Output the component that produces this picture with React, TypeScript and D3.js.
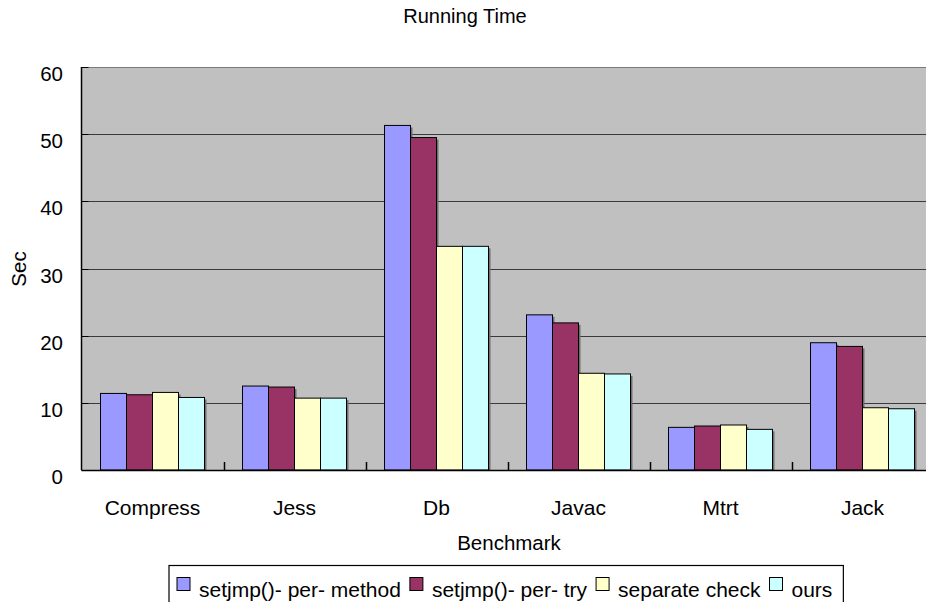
import React, { useEffect, useRef } from "react";
import * as d3 from "d3";

const categories = ["Compress", "Jess", "Db", "Javac", "Mtrt", "Jack"];
const seriesNames = ["setjmp()- per- method", "setjmp()- per- try", "separate check", "ours"];
const perMethod = [11.4, 12.5, 51.3, 23.1, 6.35, 18.95];
const perTry = [11.2, 12.35, 49.5, 21.9, 6.55, 18.4];
const separateCheck = [11.55, 10.7, 33.3, 14.4, 6.7, 9.27];
const ours = [10.8, 10.7, 33.3, 14.3, 6.05, 9.12];
const yTicks = [0, 10, 20, 30, 40, 50, 60];
const colors = ["#9999FF", "#993366", "#FFFFCC", "#CCFFFF"];

const W = 926;
const H = 602;
const FONT = "Arial, 'Liberation Sans', sans-serif";

export default function App() {
  const ref = useRef<SVGSVGElement | null>(null);

  useEffect(() => {
    const svg = d3.select(ref.current);
    svg.selectAll("*").remove();

    const left = 81.5;
    const groupW = 142;
    const right = left + groupW * categories.length;
    const top = 67;
    const bottom = 470;

    const x0 = d3.scaleBand<string>().domain(categories).range([left, right]).padding(0);
    const x1 = d3.scaleBand<string>().domain(seriesNames).range([19, 123]).padding(0);
    const y = d3.scaleLinear().domain([0, 60]).range([bottom, top]);

    const data = [perMethod, perTry, separateCheck, ours];

    svg.append("rect").attr("x", left).attr("y", top).attr("width", W - left).attr("height", bottom - top).attr("fill", "#C0C0C0");

    svg.selectAll("line.grid").data(yTicks.filter((t) => t > 0)).enter().append("line")
      .attr("x1", left).attr("x2", W)
      .attr("y1", (d) => Math.round(y(d)) + 0.5).attr("y2", (d) => Math.round(y(d)) + 0.5)
      .attr("stroke", (d) => (d === 60 ? "#7a7a7a" : "#3a3a3a")).attr("stroke-width", 1);

    svg.selectAll("line.ytick").data(yTicks).enter().append("line")
      .attr("x1", left).attr("x2", left + 7)
      .attr("y1", (d) => Math.round(y(d)) + 0.5).attr("y2", (d) => Math.round(y(d)) + 0.5)
      .attr("stroke", "#000");

    svg.selectAll("text.ylab").data(yTicks).enter().append("text")
      .attr("x", 63).attr("y", (d) => y(d) + 14)
      .attr("text-anchor", "end").attr("font-family", FONT).attr("font-size", 20.5)
      .attr("fill", "#000").text((d) => String(d));

    categories.forEach((c, ci) => {
      seriesNames.forEach((s, si) => {
        const v = data[si][ci];
        const bx = (x0(c) as number) + (x1(s) as number);
        const bw = x1.bandwidth();
        const by = y(v);
        svg.append("rect").attr("x", bx + 2).attr("y", by + 2).attr("width", bw).attr("height", bottom - by - 2)
          .attr("fill", "#6e6e6e");
        svg.append("rect").attr("x", bx).attr("y", by).attr("width", bw).attr("height", bottom - by)
          .attr("fill", colors[si]).attr("stroke", "#000").attr("stroke-width", 1);
      });
    });

    svg.append("line").attr("x1", left).attr("x2", left).attr("y1", top).attr("y2", bottom).attr("stroke", "#000").attr("stroke-width", 1.5);
    svg.append("line").attr("x1", left).attr("x2", W).attr("y1", bottom + 0.5).attr("y2", bottom + 0.5).attr("stroke", "#000").attr("stroke-width", 1.5);

    const bounds = categories.map((c) => (x0(c) as number)).concat([right]).slice(1);
    svg.selectAll("line.xtick").data(bounds).enter().append("line")
      .attr("x1", (d) => Math.round(d) + 0.5).attr("x2", (d) => Math.round(d) + 0.5)
      .attr("y1", bottom - 8).attr("y2", bottom).attr("stroke", "#000").attr("stroke-width", 1.5);

    svg.selectAll("text.xlab").data(categories).enter().append("text")
      .attr("x", (d) => (x0(d) as number) + x0.bandwidth() / 2).attr("y", 515)
      .attr("text-anchor", "middle").attr("font-family", FONT).attr("font-size", 21)
      .attr("fill", "#000").text((d) => d);

    svg.append("text").attr("x", 465).attr("y", 23).attr("text-anchor", "middle")
      .attr("font-family", FONT).attr("font-size", 20).text("Running Time");

    svg.append("text").attr("x", 509).attr("y", 550).attr("text-anchor", "middle")
      .attr("font-family", FONT).attr("font-size", 20.5).text("Benchmark");
    svg.append("text").attr("transform", "translate(26,269) rotate(-90)").attr("text-anchor", "middle")
      .attr("font-family", FONT).attr("font-size", 20.5).text("Sec");

    const lg = svg.append("g");
    const box = lg.append("rect").attr("y", 565.5).attr("height", 50).attr("fill", "#fff").attr("stroke", "#000").attr("stroke-width", 1.2);
    let cx = 177;
    seriesNames.forEach((s, si) => {
      lg.append("rect").attr("x", cx).attr("y", 577.5).attr("width", 13).attr("height", 13)
        .attr("fill", colors[si]).attr("stroke", "#000").attr("stroke-width", 1);
      const t = lg.append("text").attr("x", cx + 22).attr("y", 597).attr("font-family", FONT)
        .attr("font-size", 21).text(s);
      const tw = (t.node() as SVGTextElement).getComputedTextLength();
      cx = cx + 22 + tw + 9;
    });
    box.attr("x", 169).attr("width", cx - 169 + 2);
  }, []);

  return (
    <svg ref={ref} width={W} height={H} style={{ position: "absolute", left: 0, top: 0, background: "#fff" }} />
  );
}
